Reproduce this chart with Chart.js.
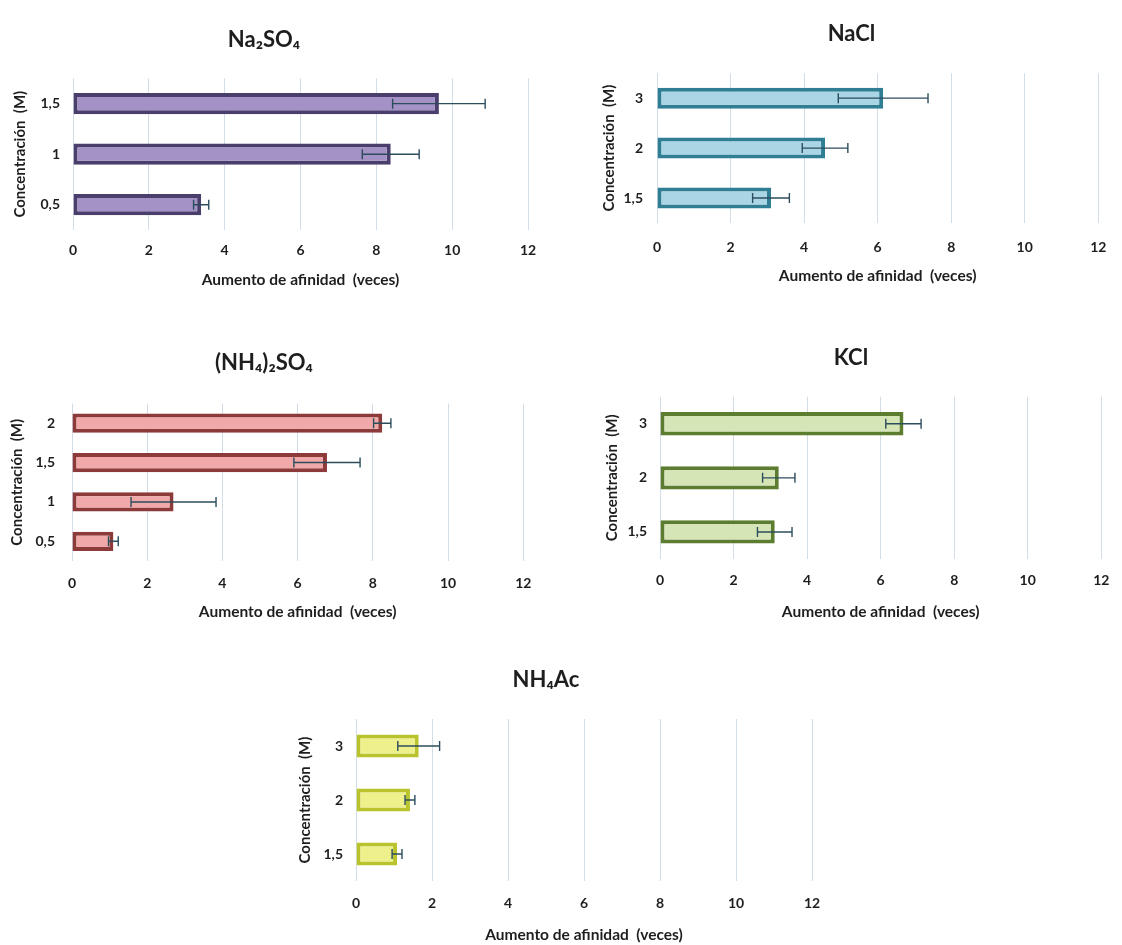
<!DOCTYPE html>
<html>
<head>
<meta charset="utf-8">
<script src="https://cdn.jsdelivr.net/npm/chart.js@4.4.1/dist/chart.umd.min.js"></script>
<style>
  body { margin: 0; background: #fff; }
  #wrap { position: relative; width: 1122px; height: 945px; }
  canvas { position: absolute; }
</style>
</head>
<body>
<div id="wrap">
  <canvas id="c1" style="left:0px;top:0px"></canvas>
  <canvas id="c2" style="left:590px;top:0px"></canvas>
  <canvas id="c3" style="left:0px;top:330px"></canvas>
  <canvas id="c4" style="left:590px;top:330px"></canvas>
  <canvas id="c5" style="left:280px;top:650px"></canvas>
</div>
<script>
// Datos (aumento de afinidad, veces)
const xTicks = [0, 2, 4, 6, 8, 10, 12];

const na2so4Labels = ["1,5", "1", "0,5"];
const na2so4Values = [9.65, 8.38, 3.38];
const na2so4Errors = [1.22, 0.75, 0.2];

const naclLabels = ["3", "2", "1,5"];
const naclValues = [6.15, 4.57, 3.1];
const naclErrors = [1.22, 0.62, 0.5];

const nh4so4Labels = ["2", "1,5", "1", "0,5"];
const nh4so4Values = [8.25, 6.78, 2.7, 1.1];
const nh4so4Errors = [0.23, 0.88, 1.13, 0.13];

const kclLabels = ["3", "2", "1,5"];
const kclValues = [6.62, 3.23, 3.12];
const kclErrors = [0.48, 0.44, 0.47];

const nh4acLabels = ["3", "2", "1,5"];
const nh4acValues = [1.65, 1.42, 1.08];
const nh4acErrors = [0.55, 0.13, 0.13];

const FONT = "Lato, 'Open Sans', 'DejaVu Sans', sans-serif";
const TEXT = "#1e1e1e";

// Barras de error dibujadas con las escalas del gráfico
const errorBars = {
    id: "errorBars",
    afterDatasetsDraw(chart) {
        const errs = chart.options.plugins.errorBars.errors;
        const meta = chart.getDatasetMeta(0);
        const xs = chart.scales.x;
        const c = chart.ctx;
        c.save();
        c.strokeStyle = "#2c4d5c";
        c.lineWidth = 1.4;
        meta.data.forEach((bar, i) => {
            const v = chart.data.datasets[0].data[i];
            const x1 = xs.getPixelForValue(v - errs[i]);
            const x2 = xs.getPixelForValue(v + errs[i]);
            const y = bar.y;
            c.beginPath();
            c.moveTo(x1, y); c.lineTo(x2, y);
            c.moveTo(x1, y - 5); c.lineTo(x1, y + 5);
            c.moveTo(x2, y - 5); c.lineTo(x2, y + 5);
            c.stroke();
        });
        c.restore();
    }
};

function makeChart(id, w, h, title, labels, values, errors, fill, border, lay) {
    const cv = document.getElementById(id);
    cv.width = w; cv.height = h;
    cv.style.width = w + "px"; cv.style.height = h + "px";
    return new Chart(cv.getContext("2d"), {
        type: "bar",
        data: {
            labels: labels,
            datasets: [{
                data: values,
                backgroundColor: fill,
                borderColor: border,
                borderWidth: 4,
                borderSkipped: false,
                categoryPercentage: 1,
                barPercentage: lay.bar
            }]
        },
        options: {
            indexAxis: "y",
            responsive: false,
            animation: false,
            layout: { padding: { left: 0, right: lay.right, top: 0, bottom: 0 } },
            plugins: {
                legend: { display: false },
                tooltip: { enabled: false },
                title: {
                    display: true,
                    text: title,
                    color: TEXT,
                    font: { family: FONT, size: 22, weight: "bold", lineHeight: 1.2 },
                    padding: { top: lay.tTop, bottom: lay.tBottom }
                },
                errorBars: { errors: errors }
            },
            scales: {
                x: {
                    min: 0, max: 12,
                    afterBuildTicks: (s) => { s.ticks = xTicks.map(v => ({ value: v })); },
                    afterFit: (s) => { s.height = lay.xh; },
                    grid: { color: "#d3dde8", lineWidth: 1, drawTicks: false },
                    border: { display: false },
                    ticks: {
                        color: TEXT, padding: lay.xPad,
                        font: { family: FONT, size: 14, weight: "bold", lineHeight: 1.2 }
                    },
                    title: {
                        display: true,
                        text: "Aumento de afinidad  (veces)",
                        color: TEXT,
                        font: { family: FONT, size: 15.5, weight: "bold", lineHeight: 1.2 },
                        padding: { top: lay.xtPad, bottom: lay.xtPad }
                    }
                },
                y: {
                    afterFit: (s) => { s.width = lay.yw; },
                    grid: { display: false, drawTicks: false },
                    border: { display: false },
                    ticks: {
                        color: TEXT, padding: lay.yPad,
                        font: { family: FONT, size: 14, weight: "bold", lineHeight: 1.2 }
                    },
                    title: {
                        display: true,
                        text: "Concentración  (M)",
                        color: TEXT,
                        font: { family: FONT, size: 15, weight: "bold", lineHeight: 1.2 },
                        padding: { top: lay.ytPad, bottom: lay.ytPad }
                    }
                }
            }
        },
        plugins: [errorBars]
    });
}

makeChart("c1", 560, 300, "Na₂SO₄", na2so4Labels, na2so4Values, na2so4Errors,
    "#a491c6", "#4a3f6c",
    { bar: 0.42, right: 32, tTop: 27, tBottom: 25, yw: 73, xh: 70, xPad: 11.6, xtPad: 10.7, ytPad: 11, yPad: 13 });

makeChart("c2", 532, 300, "NaCl", naclLabels, naclValues, naclErrors,
    "#a9d5e4", "#2f7e94",
    { bar: 0.42, right: 9, tTop: 21, tBottom: 25.8, yw: 67, xh: 77, xPad: 15.6, xtPad: 14.7, ytPad: 10, yPad: 14 });

makeChart("c3", 545, 300, "(NH₄)₂SO₄", nh4so4Labels, nh4so4Values, nh4so4Errors,
    "#f0a9a8", "#8c3a3a",
    { bar: 0.49, right: 17, tTop: 19.8, tBottom: 27.3, yw: 72, xh: 69, xPad: 13.6, xtPad: 8.7, ytPad: 8, yPad: 17 });

makeChart("c4", 532, 300, "KCl", kclLabels, kclValues, kclErrors,
    "#d6e5b6", "#5c7c2f",
    { bar: 0.43, right: 10, tTop: 14.5, tBottom: 25.8, yw: 70, xh: 71, xPad: 12.6, xtPad: 8.7, ytPad: 13, yPad: 13 });

makeChart("c5", 560, 295, "NH₄Ac", nh4acLabels, nh4acValues, nh4acErrors,
    "#eef08c", "#b9c42c",
    { bar: 0.43, right: 28, tTop: 16.8, tBottom: 25.8, yw: 76, xh: 64, xPad: 14.1, xtPad: 0.7, ytPad: 16, yPad: 13 });
</script>
</body>
</html>
